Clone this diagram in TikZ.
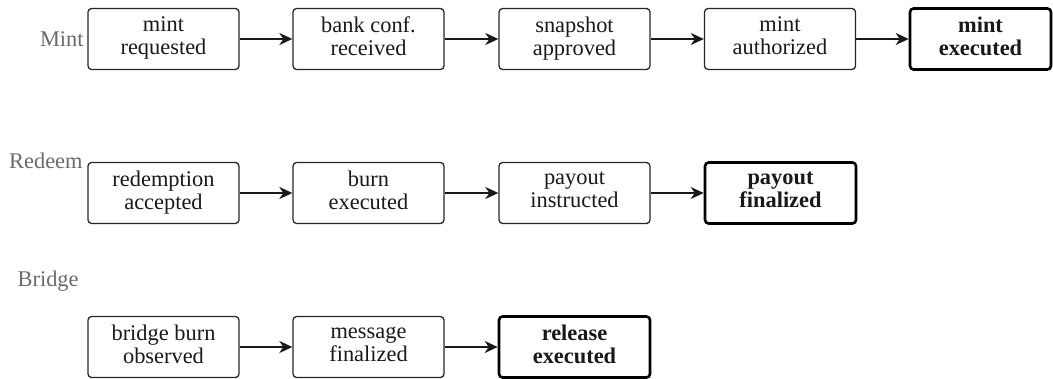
\documentclass[tikz,border=0pt]{standalone}
\usepackage{fontspec}
\setmainfont{Liberation Serif}
\usetikzlibrary{arrows.meta}

\newcommand{\stagefont}{\fontsize{11.2}{11.5}\selectfont}
\tikzset{
  stage/.style={draw=black!85, line width=0.65pt, rounded corners=1.8pt,
    align=center, minimum width=75.5pt, minimum height=30.5pt,
    inner sep=1pt, font=\stagefont, text=black!90,
    execute at begin node={\rule{0pt}{8.5pt}},
    execute at end node={\rule[-3.2pt]{0pt}{3.2pt}}},
  final/.style={stage, line width=1.3pt, draw=black, font=\stagefont\bfseries},
  lane/.style={anchor=east, inner sep=0pt, text=black!58, font=\stagefont},
  flow/.style={-{Stealth[length=6.5pt,width=6pt,inset=2pt]}, line width=0.8pt, black!90},
}

\begin{document}
\begin{tikzpicture}[x=1pt,y=1pt]
  \useasboundingbox (0,0) rectangle (526.5,-189.5);

  % Mint lane
  \node[lane] (lmint) at (42,-19.5) {Mint};
  \node[stage] (m1) at (81.75,-19.5)  {mint\\requested};
  \node[stage] (m2) at (184.25,-19.5) {bank conf.\\received};
  \node[stage] (m3) at (287.25,-19.5) {snapshot\\approved};
  \node[stage] (m4) at (390,-19.5)    {mint\\authorized};
  \node[final, minimum width=70.5pt] (m5) at (490.25,-19.5) {mint\\executed};
  \draw[flow] (m1) -- (m2);
  \draw[flow] (m2) -- (m3);
  \draw[flow] (m3) -- (m4);
  \draw[flow] (m4) -- (m5);

  % Redeem lane
  \node[stage] (r1) at (81.75,-96.5)  {redemption\\accepted};
  \node[stage] (r2) at (184.25,-96.5) {burn\\executed};
  \node[stage] (r3) at (287.25,-96.5) {payout\\instructed};
  \node[final] (r4) at (390.25,-96.5) {payout\\finalized};
  \node[lane] (lredeem) at (41.5,-80.5) {Redeem};
  \draw[flow] (r1) -- (r2);
  \draw[flow] (r2) -- (r3);
  \draw[flow] (r3) -- (r4);

  % Bridge lane
  \node[lane] (lbridge) at (39.5,-140.5) {Bridge};
  \node[stage] (b1) at (81.75,-173.5)  {bridge burn\\observed};
  \node[stage] (b2) at (184.25,-173.5) {message\\finalized};
  \node[final] (b3) at (287.25,-173.5) {release\\executed};
  \draw[flow] (b1) -- (b2);
  \draw[flow] (b2) -- (b3);
\end{tikzpicture}
\end{document}
